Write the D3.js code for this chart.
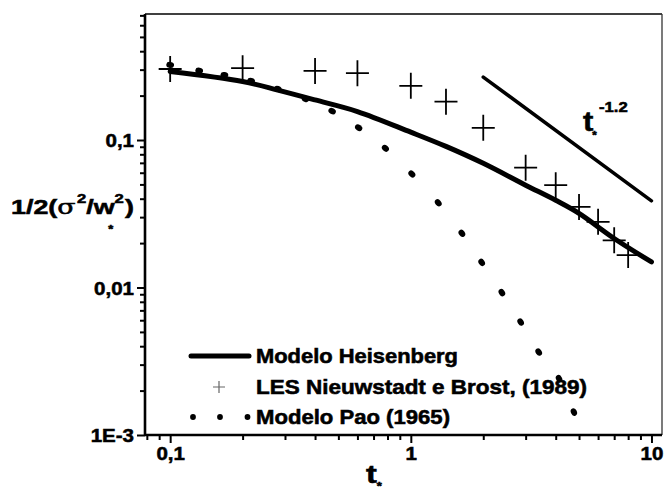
<!DOCTYPE html>
<html>
<head>
<meta charset="utf-8">
<script src="https://cdn.jsdelivr.net/npm/d3@7"></script>
<style>
  body { margin: 0; background: #fff; }
  text { font-family: "Liberation Sans", Arial, sans-serif; font-weight: bold; fill: #000; stroke: #000; stroke-width: 0.55px; }
</style>
</head>
<body>
<div id="chart"></div>
<script>
// Heisenberg model (solid curve)
const heisT = [0.1, 0.2, 0.28, 0.4, 0.6, 1, 1.4, 2, 3, 4, 5, 7, 10];
const heisV = [0.291, 0.249, 0.218, 0.187, 0.156, 0.113, 0.0905, 0.0695, 0.0494, 0.039, 0.0318, 0.0215, 0.0149];

// LES Nieuwstadt e Brost (1989), crosses
const lesT = [0.1, 0.2, 0.4, 0.6, 1, 1.4, 2, 3, 4, 5, 6, 7, 8];
const lesV = [0.303, 0.307, 0.294, 0.284, 0.233, 0.182, 0.121, 0.0649, 0.0494, 0.0352, 0.0279, 0.0209, 0.0166];

// Pao (1965) model, dotted
const paoT = [0.1, 0.132, 0.168, 0.217, 0.28, 0.365, 0.471, 0.607, 0.784, 1.01, 1.3, 1.63, 1.97, 2.39, 2.86, 3.4, 4.13, 4.76];
const paoV = [0.323, 0.295, 0.276, 0.252, 0.222, 0.19, 0.157, 0.121, 0.0879, 0.0588, 0.0375, 0.0233, 0.0148, 0.00924, 0.00584, 0.00365, 0.00241, 0.00143];

// t^-1.2 reference line
const powT = [2, 10];
const powV = [0.267, 0.0387];

const xTickMajor = [0.1, 1, 10];
const xTickLabels = ["0,1", "1", "10"];
const yTickMajor = [0.001, 0.01, 0.1];
const yTickLabels = ["1E-3", "0,01", "0,1"];

const legTexts = ["Modelo Heisenberg", "LES Nieuwstadt e Brost, (1989)", "Modelo Pao (1965)"];

const W = 665, H = 493;
const mLeft = 145, mRight = 662, mTop = 14, mBottom = 435;

const svg = d3.select("#chart").append("svg")
    .attr("width", W).attr("height", H);

const x = d3.scaleLog().domain([0.0786, 11.06]).range([mLeft, mRight]);
const y = d3.scaleLog().domain([0.001, 0.715]).range([mBottom, mTop]);

// all the 1..9 x 10^e ticks inside the range
function logTicks(lo, hi) {
    const out = [];
    for (let e = -4; e <= 2; e++) {
        for (let m = 1; m <= 9; m++) {
            const v = m * Math.pow(10, e);
            if (v >= lo * 0.999 && v <= hi * 1.001) out.push(v);
        }
    }
    return out;
}
const isMajor = v => Math.abs(Math.log10(v) - Math.round(Math.log10(v))) < 1e-6;

// frame: thin top and right
svg.append("line").attr("x1", mLeft).attr("x2", mRight).attr("y1", mTop).attr("y2", mTop)
    .attr("stroke", "#000").attr("stroke-width", 1.3);
svg.append("line").attr("x1", mRight).attr("x2", mRight).attr("y1", mTop).attr("y2", mBottom)
    .attr("stroke", "#333").attr("stroke-width", 1.3);

// x axis
const xAxis = svg.append("g").attr("transform", `translate(0,${mBottom})`)
    .call(d3.axisBottom(x).tickValues(logTicks(0.0786, 11.06))
        .tickSize(5).tickFormat(d => {
            const i = xTickMajor.findIndex(m => Math.abs(m - d) < 1e-9);
            return i >= 0 ? xTickLabels[i] : "";
        }));
xAxis.select(".domain").attr("stroke-width", 2.6).attr("d", `M${mLeft},0H${mRight}`);
xAxis.selectAll(".tick line").attr("stroke-width", 2).attr("y2", d => isMajor(d) ? 8 : 5);
xAxis.selectAll(".tick text").attr("class", "stretch").attr("font-size", 19).attr("y", 12).attr("font-family", null);

// y axis
const yAxis = svg.append("g").attr("transform", `translate(${mLeft},0)`)
    .call(d3.axisLeft(y).tickValues(logTicks(0.001, 0.715))
        .tickSize(5).tickFormat(d => {
            const i = yTickMajor.findIndex(m => Math.abs(m - d) < 1e-12);
            return i >= 0 ? yTickLabels[i] : "";
        }));
yAxis.select(".domain").attr("stroke-width", 2.6).attr("d", `M0,${mTop}V${mBottom}`);
yAxis.selectAll(".tick line").attr("stroke-width", 2).attr("x2", d => isMajor(d) ? -8 : -5);
yAxis.selectAll(".tick text").attr("class", "stretch").attr("font-size", 19).attr("x", -11).attr("dy", "0.36em").attr("font-family", null);

// Heisenberg curve
const line = d3.line().x(d => x(d[0])).y(d => y(d[1])).curve(d3.curveCatmullRom);
svg.append("path")
    .datum(heisT.map((t, i) => [t, heisV[i]]))
    .attr("d", line).attr("fill", "none").attr("stroke", "#000")
    .attr("stroke-width", 5).attr("stroke-linecap", "round");

// power law
svg.append("path")
    .datum(powT.map((t, i) => [t, powV[i]]))
    .attr("d", d3.line().x(d => x(d[0])).y(d => y(d[1])))
    .attr("fill", "none").attr("stroke", "#000").attr("stroke-width", 3.5).attr("stroke-linecap", "round");

// Pao dots, elongated along the curve
const paoPts = paoT.map((t, i) => [x(t), y(paoV[i])]);
svg.append("g").selectAll("ellipse")
    .data(paoPts).enter().append("ellipse")
    .attr("cx", d => d[0]).attr("cy", d => d[1])
    .attr("rx", 3.9).attr("ry", 3)
    .attr("transform", (d, i) => {
        const a = paoPts[Math.max(0, i - 1)], b = paoPts[Math.min(paoPts.length - 1, i + 1)];
        const ang = Math.atan2(b[1] - a[1], b[0] - a[0]) * 180 / Math.PI;
        return `rotate(${ang},${d[0]},${d[1]})`;
    })
    .attr("fill", "#000");

// LES crosses
svg.append("g").selectAll("path")
    .data(lesT.map((t, i) => [x(t), y(lesV[i])])).enter().append("path")
    .attr("d", d => `M${d[0] - 11.5},${d[1]}H${d[0] + 11.5}M${d[0]},${d[1] - 13}V${d[1] + 13}`)
    .attr("stroke", "#000").attr("stroke-width", 1.8).attr("fill", "none");

// t*^-1.2 annotation
const ann = svg.append("text").attr("transform", "translate(583,131) scale(1.15,1)").attr("font-size", 27);
ann.append("tspan").text("t");
ann.append("tspan").attr("font-size", 10).attr("dx", -1).attr("dy", 8).text("*");
ann.append("tspan").attr("font-size", 14.5).attr("dx", 2).attr("dy", -27).text("-1.2");

// legend
svg.append("line").attr("x1", 191).attr("x2", 249).attr("y1", 356).attr("y2", 356)
    .attr("stroke", "#000").attr("stroke-width", 5).attr("stroke-linecap", "round");
svg.append("path").attr("d", "M213,387H225M219,381V393").attr("stroke", "#666").attr("stroke-width", 1.2);
svg.append("g").selectAll("circle").data([193, 220, 247.5]).enter().append("circle")
    .attr("cx", d => d).attr("cy", 417).attr("r", 2.9).attr("fill", "#000");
const legLen = [202, 331, 194];
svg.append("g").selectAll("text").data(legTexts).enter().append("text")
    .attr("x", 256).attr("y", (d, i) => 363 + i * 30.5)
    .attr("font-size", 19.5)
    .attr("textLength", (d, i) => legLen[i]).attr("lengthAdjust", "spacingAndGlyphs")
    .text(d => d);

// y title (drawn stretched horizontally like the original)
const yt = svg.append("text").attr("transform", "translate(11,214) scale(1.28,1)").attr("font-size", 21);
yt.append("tspan").text("1/2(");
yt.append("tspan").attr("font-family", "DejaVu Serif, serif").attr("font-weight", "normal").text("σ");
yt.append("tspan").attr("font-size", 13).attr("dx", 1).attr("dy", -11).text("2");
yt.append("tspan").attr("dy", 11).text("/w");
yt.append("tspan").attr("font-size", 10).attr("dx", -5).attr("dy", 19).text("*");
yt.append("tspan").attr("font-size", 13).attr("dx", 1).attr("dy", -30).text("2");
yt.append("tspan").attr("dx", 1).attr("dy", 11).text(")");

// x title
const xt = svg.append("text").attr("transform", "translate(366,483) scale(1.3,1)").attr("font-size", 25);
xt.append("tspan").text("t");
xt.append("tspan").attr("font-size", 10).attr("dy", 7).text("*");

// widen tick labels a little, the source font runs wide
svg.selectAll("text.stretch").each(function () {
    const len = this.getComputedTextLength();
    if (len > 0) d3.select(this).attr("textLength", len * 1.08).attr("lengthAdjust", "spacingAndGlyphs");
});
</script>
</body>
</html>
